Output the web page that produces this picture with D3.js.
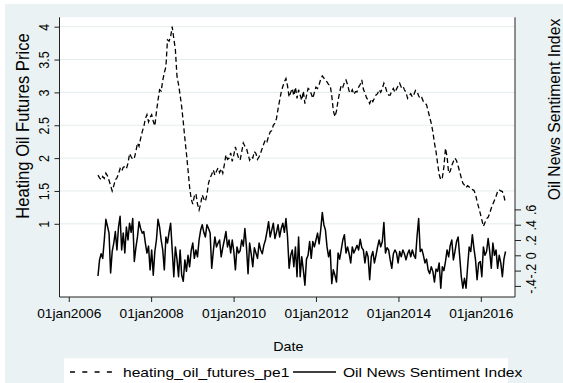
<!DOCTYPE html>
<html>
<head>
<meta charset="utf-8">
<script src="https://cdn.jsdelivr.net/npm/d3@7"></script>
<style>
  body { margin: 0; background: #ffffff; }
  svg { display: block; }
  text { font-family: "Liberation Sans", Arial, sans-serif; fill: #000; }
</style>
</head>
<body>
<svg id="chart" width="563" height="383"></svg>
<script>
// ---- data ----------------------------------------------------------------
const yearTicks = ["2006-01-01", "2008-01-01", "2010-01-01", "2012-01-01", "2014-01-01", "2016-01-01"];
const priceTicks = [1, 1.5, 2, 2.5, 3, 3.5, 4];
const sentimentTicks = [-0.4, -0.2, 0, 0.2, 0.4, 0.6];

// fortnightly observations
const seriesStart = "2006-09-17";
const stepDays = 14;

const heatingOilPrice = [
  1.74,1.70,1.67,1.72,1.69,1.77,1.73,1.66,1.58,1.50,
  1.58,1.67,1.70,1.76,1.84,1.80,1.86,1.87,1.84,1.92,
  2.07,2.02,1.98,2.00,2.10,2.23,2.18,2.30,2.40,2.48,
  2.60,2.66,2.55,2.62,2.66,2.56,2.49,2.70,2.88,3.04,
  3.02,3.18,3.30,3.39,3.80,3.78,3.85,4.00,3.82,3.65,
  3.25,3.12,2.96,2.78,2.55,2.30,2.07,1.82,1.56,1.38,
  1.30,1.42,1.46,1.30,1.21,1.30,1.44,1.38,1.34,1.45,
  1.62,1.70,1.75,1.82,1.74,1.80,1.85,1.78,1.84,1.77,
  1.90,2.05,1.98,2.00,2.08,1.95,2.05,2.17,2.08,2.00,
  1.97,2.10,2.23,2.18,2.15,2.06,1.97,2.02,2.00,2.10,
  2.07,1.98,2.02,2.08,2.15,2.22,2.28,2.25,2.33,2.40,
  2.42,2.50,2.53,2.60,2.75,2.88,3.00,3.09,3.16,3.21,
  3.10,2.93,3.00,3.06,2.95,3.08,2.91,3.04,2.96,2.88,
  3.02,2.83,2.95,3.06,3.04,2.98,2.91,3.00,3.08,3.06,
  3.12,3.20,3.25,3.22,3.18,3.16,3.12,3.11,2.95,2.72,
  2.63,2.72,2.88,3.00,3.11,3.08,3.15,3.19,3.12,3.02,
  2.99,3.04,2.97,3.01,3.01,3.08,3.12,3.19,3.05,2.99,
  2.92,2.88,2.83,2.90,2.86,2.91,2.96,2.98,3.04,3.00,
  3.06,3.14,3.08,3.00,2.96,2.96,3.02,3.06,3.00,3.05,
  3.10,3.14,3.08,3.10,3.04,3.00,2.91,2.95,2.98,2.93,
  2.97,3.03,3.01,2.95,2.90,2.92,2.86,2.84,2.81,2.72,
  2.62,2.53,2.40,2.23,2.10,1.92,1.75,1.67,1.70,1.87,
  2.15,2.02,1.77,1.80,1.89,1.95,2.00,1.96,1.88,1.79,
  1.70,1.62,1.59,1.55,1.58,1.56,1.53,1.52,1.51,1.45,
  1.34,1.25,1.16,1.06,0.96,1.02,1.08,1.10,1.16,1.24,
  1.30,1.36,1.42,1.49,1.52,1.50,1.49,1.42,1.31
];

const sentimentIndex = [
  -0.27,-0.06,0.02,-0.04,0.20,0.47,0.38,0.29,-0.23,0.05,
  0.16,0.31,0.07,0.37,0.51,0.07,0.29,0.03,0.37,0.20,
  0.42,0.30,0.48,-0.08,0.10,0.24,0.44,0.35,0.29,0.31,
  0.16,0.03,0.12,-0.19,0.07,-0.26,0.05,0.20,0.47,0.37,
  0.20,0.07,-0.19,0.24,0.16,0.30,0.42,0.07,-0.28,0.11,
  -0.05,-0.28,0.07,-0.26,-0.34,-0.06,-0.21,0.00,-0.15,0.06,
  0.16,-0.04,0.07,-0.02,0.20,0.33,0.40,0.30,0.24,0.40,
  0.35,0.29,-0.17,0.05,0.24,0.11,0.16,0.20,-0.02,0.10,
  0.20,0.31,0.11,0.20,0.03,0.20,0.05,-0.19,0.11,0.03,
  0.06,0.20,0.12,0.35,0.11,-0.24,0.16,0.02,-0.15,0.10,
  0.03,-0.04,0.16,0.07,0.02,0.13,0.20,0.31,0.44,0.24,
  0.33,0.42,0.22,0.30,0.40,0.24,0.35,0.42,0.30,0.48,
  0.24,-0.17,0.00,0.07,-0.15,0.11,-0.28,0.24,-0.28,-0.02,
  -0.19,-0.39,-0.05,0.00,0.18,-0.04,0.18,0.11,0.20,0.29,
  0.15,0.33,0.56,0.40,0.33,0.11,-0.02,0.07,-0.37,-0.19,
  -0.26,-0.35,0.03,-0.05,0.07,0.20,0.27,0.03,0.11,0.02,
  -0.10,0.11,0.03,0.08,0.13,0.07,0.21,0.10,0.07,-0.10,
  0.05,-0.02,-0.32,-0.02,0.05,-0.10,0.00,0.11,0.20,0.11,
  0.18,0.43,0.03,0.10,0.07,-0.06,-0.17,0.02,0.07,0.03,
  -0.10,0.05,-0.02,0.07,0.02,-0.06,0.02,0.07,-0.02,0.07,
  0.00,-0.04,0.25,0.48,0.05,0.08,0.00,-0.10,-0.05,-0.19,
  -0.24,-0.15,-0.21,-0.35,-0.18,-0.21,-0.10,-0.43,-0.15,-0.20,
  -0.08,0.07,-0.02,0.13,0.20,-0.06,0.05,0.18,0.24,-0.02,
  -0.28,-0.43,-0.30,-0.43,-0.15,0.11,0.05,0.27,0.09,-0.06,
  -0.32,-0.10,-0.08,-0.28,0.11,0.00,0.05,0.22,0.05,-0.17,
  0.16,0.00,0.07,-0.17,0.00,-0.10,-0.28,-0.05,0.05
];

const legendLabels = ["heating_oil_futures_pe1", "Oil News Sentiment Index"];

// ---- layout --------------------------------------------------------------
const W = 563, H = 383;
const plot = { left: 59.5, right: 515, top: 17.3, bottom: 297 };
const sx = 1.1;              // horizontal text stretch
const bg = "#eaf2f3";

const svg = d3.select("#chart");

svg.append("rect").attr("x", 5).attr("y", 4).attr("width", W - 5).attr("height", H - 4).attr("fill", bg);
svg.append("rect")
  .attr("x", plot.left).attr("y", plot.top)
  .attr("width", plot.right - plot.left).attr("height", plot.bottom - plot.top)
  .attr("fill", "#fff");

const parse = d3.utcParse("%Y-%m-%d");
const start = parse(seriesStart);
const dates = heatingOilPrice.map((_, i) => d3.utcDay.offset(start, i * stepDays));

const x = d3.scaleUtc()
  .domain([parse("2005-10-11"), parse("2016-10-30")])
  .range([plot.left, plot.right]);
const yPrice = d3.scaleLinear().domain([-0.114, 4.143]).range([plot.bottom, plot.top]);
const ySent = d3.scaleLinear().domain([-0.545, 3.111]).range([plot.bottom, plot.top]);

// gridlines on the price axis
svg.append("g").selectAll("line").data(priceTicks).join("line")
  .attr("x1", plot.left).attr("x2", plot.right)
  .attr("y1", d => yPrice(d)).attr("y2", d => yPrice(d))
  .attr("stroke", "#e4edef").attr("stroke-width", 1);

// Stata-style numbers: no leading zero, ASCII minus
const stataNum = d => String(+d.toFixed(2)).replace(/^(-?)0\./, "$1.");

// left axis
const gl = svg.append("g").attr("transform", `translate(${plot.left},0)`)
  .call(d3.axisLeft(yPrice).tickValues(priceTicks).tickSize(5).tickFormat(stataNum));
gl.select(".domain").attr("d", `M0,${plot.top}V${plot.bottom}`).attr("stroke", "#222");
gl.selectAll(".tick line").attr("stroke", "#222");
gl.selectAll(".tick text")
  .attr("x", null).attr("dy", "0.36em")
  .attr("text-anchor", "middle")
  .attr("font-size", 12.5)
  .attr("transform", `translate(-15.5,0) scale(${sx},1) rotate(-90)`);

// right axis
const gr = svg.append("g").attr("transform", `translate(${plot.right},0)`)
  .call(d3.axisRight(ySent).tickValues(sentimentTicks).tickSize(6).tickFormat(stataNum));
gr.select(".domain").attr("d", `M0,${plot.top}V${plot.bottom}`).attr("stroke", "#222");
gr.selectAll(".tick line").attr("stroke", "#222");
gr.selectAll(".tick text")
  .attr("x", null).attr("dy", "0.36em")
  .attr("text-anchor", "middle")
  .attr("font-size", 12.5)
  .attr("transform", `translate(16.5,0) scale(${sx},1) rotate(-90)`);

// bottom axis
const fmtDate = d => d3.utcFormat("%d%b%Y")(d).toLowerCase();
const gb = svg.append("g").attr("transform", `translate(0,${plot.bottom})`)
  .call(d3.axisBottom(x).tickValues(yearTicks.map(parse)).tickSize(5).tickFormat(fmtDate));
gb.select(".domain").attr("d", `M${plot.left},0H${plot.right}`).attr("stroke", "#222");
gb.selectAll(".tick line").attr("stroke", "#222");
gb.selectAll(".tick text")
  .attr("y", null).attr("dy", "0.36em")
  .attr("text-anchor", "middle")
  .attr("font-size", 12.5)
  .attr("transform", `translate(0,16.3) scale(${sx},1)`);

svg.selectAll(".tick text").attr("fill", "#000").attr("font-family", "Liberation Sans, Arial, sans-serif");

// axis titles
svg.append("text").text("Heating Oil Futures Price")
  .attr("text-anchor", "middle").attr("dy", "0.36em").attr("font-size", 16.6)
  .attr("transform", `translate(22.5,126) scale(${sx},1) rotate(-90)`);
svg.append("text").text("Oil News Sentiment Index")
  .attr("text-anchor", "middle").attr("dy", "0.36em").attr("font-size", 15.8)
  .attr("transform", `translate(553.5,109.5) scale(${sx},1) rotate(-90)`);
svg.append("text").text("Date")
  .attr("text-anchor", "middle").attr("dy", "0.36em").attr("font-size", 13)
  .attr("transform", `translate(288.3,346.7) scale(${sx},1)`);

// series
const priceLine = d3.line().x((d, i) => x(dates[i])).y(d => yPrice(d));
const sentLine = d3.line().x((d, i) => x(dates[i])).y(d => ySent(d));

svg.append("path").datum(heatingOilPrice)
  .attr("d", priceLine)
  .attr("fill", "none").attr("stroke", "#000").attr("stroke-width", 1.3)
  .attr("stroke-dasharray", "5,3");
svg.append("path").datum(sentimentIndex)
  .attr("d", sentLine)
  .attr("fill", "none").attr("stroke", "#000").attr("stroke-width", 1.5)
  .attr("stroke-linejoin", "round");

// legend
const lg = svg.append("g");
lg.append("rect").attr("x", 64).attr("y", 358.3).attr("width", 444).attr("height", H - 358.3).attr("fill", "#fff");
const legendY = 372;
lg.append("line").attr("x1", 70).attr("x2", 114).attr("y1", legendY).attr("y2", legendY)
  .attr("stroke", "#000").attr("stroke-width", 1.3).attr("stroke-dasharray", "5,7.3");
lg.append("line").attr("x1", 293).attr("x2", 336).attr("y1", legendY).attr("y2", legendY)
  .attr("stroke", "#000").attr("stroke-width", 1.5);
lg.append("text").text(legendLabels[0]).attr("font-size", 13).attr("dy", "0.36em")
  .attr("transform", `translate(123,${legendY}) scale(1.2,1)`);
lg.append("text").text(legendLabels[1]).attr("font-size", 13).attr("dy", "0.36em")
  .attr("transform", `translate(343,${legendY}) scale(1.2,1)`);
</script>
</body>
</html>
